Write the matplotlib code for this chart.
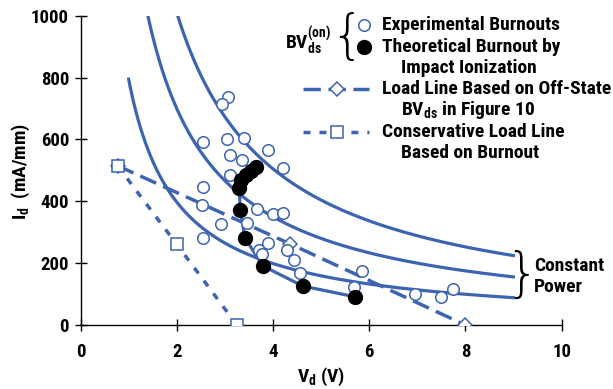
import matplotlib
matplotlib.use("Agg")
import matplotlib.pyplot as plt
import numpy as np
from matplotlib.lines import Line2D

FONT = ['Roboto Condensed', 'Liberation Sans Narrow', 'Roboto', 'DejaVu Sans']
plt.rcParams['font.family'] = FONT
plt.rcParams['font.weight'] = 'bold'
plt.rcParams['mathtext.fontset'] = 'custom'
plt.rcParams['mathtext.rm'] = 'Roboto Condensed:bold'
plt.rcParams['mathtext.it'] = 'Roboto Condensed:bold'
plt.rcParams['mathtext.bf'] = 'Roboto Condensed:bold'

BLUE = '#3C64B1'
FS = 14

# constant power curves (mW/mm): Id = P / Vd
powers = [2020, 1400, 795]
curve_start_id = [1000, 1000, 800]
curve_end_vd = 9.03

# experimental burnout points
exp_vd = [3.06, 2.95, 2.54, 3.05, 3.40, 3.90, 3.11, 3.36, 4.20, 3.11, 2.55,
          2.52, 3.66, 4.00, 4.20, 2.91, 3.46, 2.55, 3.72, 3.77, 3.90, 4.29,
          4.43, 4.56, 5.85, 5.69, 6.95, 7.50, 7.75]
exp_id = [736, 714, 592, 601, 606, 566, 551, 532, 509, 485, 445,
          388, 376, 359, 361, 326, 329, 282, 241, 230, 264, 241,
          210, 168, 173, 124, 100, 90, 115]

# theoretical burnout by impact ionization
theo_vd = [3.65, 3.55, 3.44, 3.34, 3.30, 3.32, 3.42, 3.79, 4.62, 5.71]
theo_id = [511, 498, 485, 469, 443, 372, 281, 191, 126, 91]

# load lines
offstate_vd = [0.77, 4.36, 8.0]
offstate_id = [515, 262, 0]
conserv_vd = [0.77, 2.0, 3.25]
conserv_id = [515, 261, 0]

fig = plt.figure(figsize=(6.13, 3.89), dpi=100)
ax = fig.add_axes([80.5 / 613, 1 - 325 / 389, 481.1 / 613, 309.3 / 389])

for p, i0 in zip(powers, curve_start_id):
    v = np.linspace(p / i0, curve_end_vd, 200)
    ax.plot(v, p / v, color=BLUE, lw=2.3, solid_capstyle='butt', zorder=2)

l1, = ax.plot(offstate_vd, offstate_id, color=BLUE, lw=2.5, zorder=3,
              marker='D', markersize=7.5, mfc='white', mec=BLUE, mew=1.1)
l1.set_dashes((5, 2.2))
l2, = ax.plot(conserv_vd, conserv_id, color=BLUE, lw=2.5, zorder=3,
              marker='s', markersize=8, mfc='white', mec=BLUE, mew=1.1)
l2.set_dashes((2, 2.6))

ax.plot(theo_vd, theo_id, color=BLUE, lw=2.3, zorder=3)
ax.plot(exp_vd, exp_id, ls='none', marker='o', markersize=8.3, mfc='white',
        mec=BLUE, mew=1.1, zorder=4)
ax.plot(theo_vd, theo_id, ls='none', marker='o', markersize=10, color='black',
        zorder=5)

ax.set_xlim(0, 10)
ax.set_ylim(0, 1000)
ax.set_xticks(range(0, 11, 2))
ax.set_yticks(range(0, 1001, 200))
for s in ['top', 'right']:
    ax.spines[s].set_visible(False)
for s in ['left', 'bottom']:
    ax.spines[s].set_linewidth(1.0)
ax.tick_params(direction='inout', length=8.5, width=1.0, labelsize=13.5, pad=4)
ax.tick_params(axis='x', pad=9)


def fp(x, y):
    return x / 613, 1 - y / 389


fig.text(*fp(321, 377), r'V$_\mathrm{d}$ (V)', fontsize=FS, ha='center',
         va='center')
fig.text(*fp(21, 172), r'I$_\mathrm{d}$  (mA/mm)', fontsize=FS, ha='center',
         va='center', rotation=90)

# legend drawn in figure pixels
fig.add_artist(Line2D(*zip(fp(364, 25)), ls='none', marker='o', markersize=8.3,
                      mfc='white', mec=BLUE, mew=1.1))
fig.add_artist(Line2D(*zip(fp(364, 47)), ls='none', marker='o', markersize=10,
                      color='black'))
h1 = Line2D(*zip(fp(303, 89), fp(369, 89)), color=BLUE, lw=2.5)
h1.set_dashes((5, 2.2))
fig.add_artist(h1)
fig.add_artist(Line2D(*zip(fp(337, 89)), ls='none', marker='D', markersize=7.5,
                      mfc='white', mec=BLUE, mew=1.1))
h2 = Line2D(*zip(fp(303, 132), fp(369, 132)), color=BLUE, lw=2.5)
h2.set_dashes((2, 2.6))
fig.add_artist(h2)
fig.add_artist(Line2D(*zip(fp(337, 132)), ls='none', marker='s', markersize=8,
                      mfc='white', mec=BLUE, mew=1.1))

entries = [(382, 25, 'Experimental Burnouts'),
           (382, 47, 'Theoretical Burnout by'),
           (401, 68, 'Impact Ionization'),
           (382, 89, 'Load Line Based on Off-State'),
           (401, 110, r'BV$_\mathrm{ds}$ in Figure 10'),
           (382, 132, 'Conservative Load Line'),
           (401, 153, 'Based on Burnout')]
for x, y, t in entries:
    fig.text(*fp(x, y), t, fontsize=FS, ha='left', va='center')

fig.text(*fp(331, 41), r'BV$_\mathrm{ds}^\mathrm{(on)}$', fontsize=FS,
         ha='right', va='center')
fig.text(*fp(347, 38), '{', fontsize=38, fontweight='light', ha='center',
         va='center', family='DejaVu Sans')

fig.text(*fp(522, 276), '}', fontsize=38, fontweight='light', ha='center',
         va='center', family='DejaVu Sans')
fig.text(*fp(534, 266), 'Constant', fontsize=FS, ha='left', va='center')
fig.text(*fp(534, 287), 'Power', fontsize=FS, ha='left', va='center')

fig.savefig('out.png', dpi=100)
